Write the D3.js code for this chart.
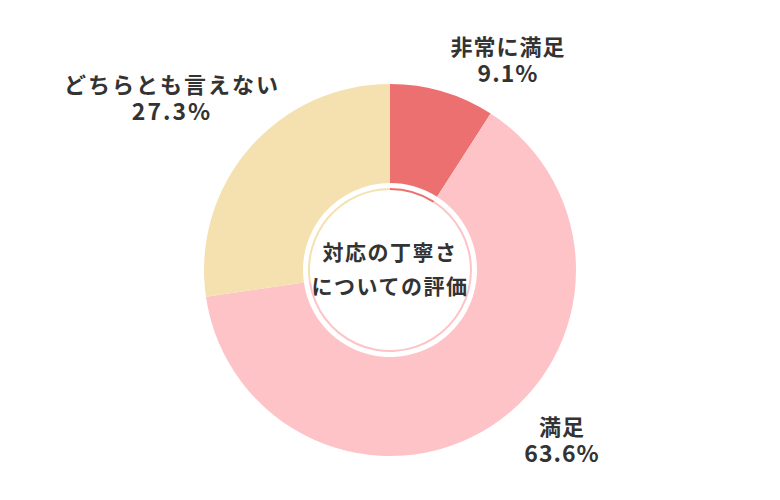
<!DOCTYPE html><html><head><meta charset="utf-8"><script src="https://cdn.jsdelivr.net/npm/d3@7"></script>
<style>body{margin:0;background:#fff}text{font-family:"Noto Sans CJK JP";font-weight:bold;fill:#333}</style></head><body><svg width="780" height="500"></svg><script>
const categories=["非常に満足","満足","どちらとも言えない"];
const values=[9.1,63.6,27.3];
const colors=["#ec7070","#fec3c6","#f5e1b0"];
const labelPos=[[508,47],[562,427],[172,85]];
const svg=d3.select("svg");
const g=svg.append("g").attr("transform","translate(390,270)");
const pie=d3.pie().sort(null)(values);
g.selectAll(".a").data(pie).join("path").attr("d",d3.arc().innerRadius(87).outerRadius(186)).attr("fill",(d,i)=>colors[i]);
g.selectAll(".b").data(pie).join("path").attr("d",d3.arc().innerRadius(80).outerRadius(82)).attr("fill",(d,i)=>colors[i]);
const t=g.append("text").attr("text-anchor","middle").attr("font-size",21).attr("letter-spacing",1.5);
t.append("tspan").attr("x",0).attr("y",-10).text("対応の丁寧さ");
t.append("tspan").attr("x",0).attr("y",24).text("についての評価");
categories.forEach((c,i)=>{
 const tx=svg.append("text").attr("text-anchor","middle").attr("font-size",22).attr("letter-spacing",i==2?2:1);
 tx.append("tspan").attr("x",labelPos[i][0]).attr("y",labelPos[i][1]+8).text(c);
 tx.append("tspan").attr("x",labelPos[i][0]).attr("y",labelPos[i][1]+35).attr("font-size",23).text(values[i].toFixed(1)+"%");
});
</script></body></html>
